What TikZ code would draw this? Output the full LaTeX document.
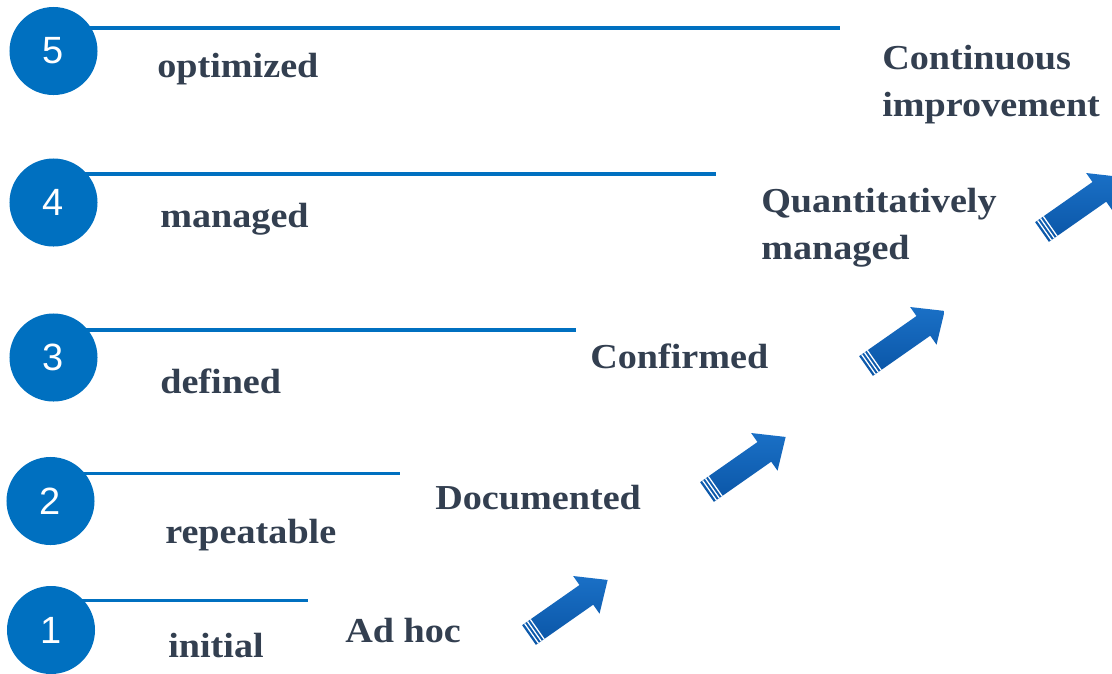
\documentclass[tikz,border=0pt]{standalone}
\usepackage{fontspec}
\setmainfont{Liberation Serif}[FakeStretch=1.09]
\newfontfamily\numfont{Liberation Sans}
\usepackage{xcolor}
\usetikzlibrary{calc, backgrounds}

\definecolor{levelblue}{HTML}{0070C0}
\definecolor{labelgray}{HTML}{333F50}
\definecolor{arrowtop}{HTML}{1A70C6}
\definecolor{arrowbot}{HTML}{0A55A6}

\tikzset{
	lvlcircle/.style = {circle, fill = levelblue, minimum size = 2.2cm, inner sep = 0, text = white, font = \numfont\fontsize{27pt}{27pt}\selectfont},
	rung/.style = {levelblue, line width = 2.8pt},
	lvltext/.style = {anchor = base west, inner sep = 0, text = labelgray, font = \bfseries\fontsize{24.9pt}{26.3pt}\selectfont},
	stagearrow/.pic = {
		\shade [top color = arrowtop, bottom color = arrowbot] (0,-12) -- (70,-12) -- (70,-23) -- (96,0) -- (70,23) -- (70,12) -- (0,12) -- cycle;
		\draw [white, line width = 0.9pt] (3,-12) -- (3,12) (6.5,-12) -- (6.5,12) (10,-12) -- (10,12);
	}
}

\begin{document}
\begin{tikzpicture}[x = 0.025cm, y = -0.025cm]
		\def\tilt{35};
		
		\clip (0,0) rectangle (1112,673);
		
		% the five levels
		\node [lvlcircle] (c5) at (53.5,51) {5};
		\node [lvlcircle] (c4) at (53.5,202.5) {4};
		\node [lvlcircle] (c3) at (53.5,357.5) {3};
		\node [lvlcircle] (c2) at (50.5,501) {2};
		\node [lvlcircle] (c1) at (51,630) {1};
		
		\coordinate (e5) at (840,28);
		\coordinate (e4) at (716,174);
		\coordinate (e3) at (576,330);
		\coordinate (e2) at (400,473.5);
		\coordinate (e1) at (308,600.5);
		
		\begin{pgfonlayer}{background}
			\draw [rung] (c5.center |- e5) -- (e5);
			\draw [rung] (c4.center |- e4) -- (e4);
			\draw [rung] (c3.center |- e3) -- (e3);
			\draw [rung] (c2.center |- e2) -- (e2);
			\draw [rung] (c1.center |- e1) -- (e1);
		\end{pgfonlayer}
		
		\node [lvltext] (optimized) at (157,77) {optimized};
		\node [lvltext] (managed) at (160,227) {managed};
		\node [lvltext] (defined) at (160,393) {defined};
		\node [lvltext] (repeatable) at (165,543) {repeatable};
		\node [lvltext] (initial) at (168,657) {initial};
		
		% what each level brings
		\node [lvltext] (adhoc) at (345,642) {Ad hoc};
		\node [lvltext] (documented) at (435,509) {Documented};
		\node [lvltext] (confirmed) at (590,368) {Confirmed};
		\node [lvltext, anchor = north west, align = left] (quantitative) at (761,188) {Quantitatively\\[7pt]managed};
		\node [lvltext, anchor = north west, align = left] (continuous) at (882,45) {Continuous\\[7pt]improvement};
		
		\pic [rotate = \tilt] at (529,635) {stagearrow};
		\pic [rotate = \tilt] at (707,492) {stagearrow};
		\pic [rotate = \tilt] at (866,366) {stagearrow};
		\pic [rotate = \tilt] at (1042,232) {stagearrow};
	\end{tikzpicture}
\end{document}
